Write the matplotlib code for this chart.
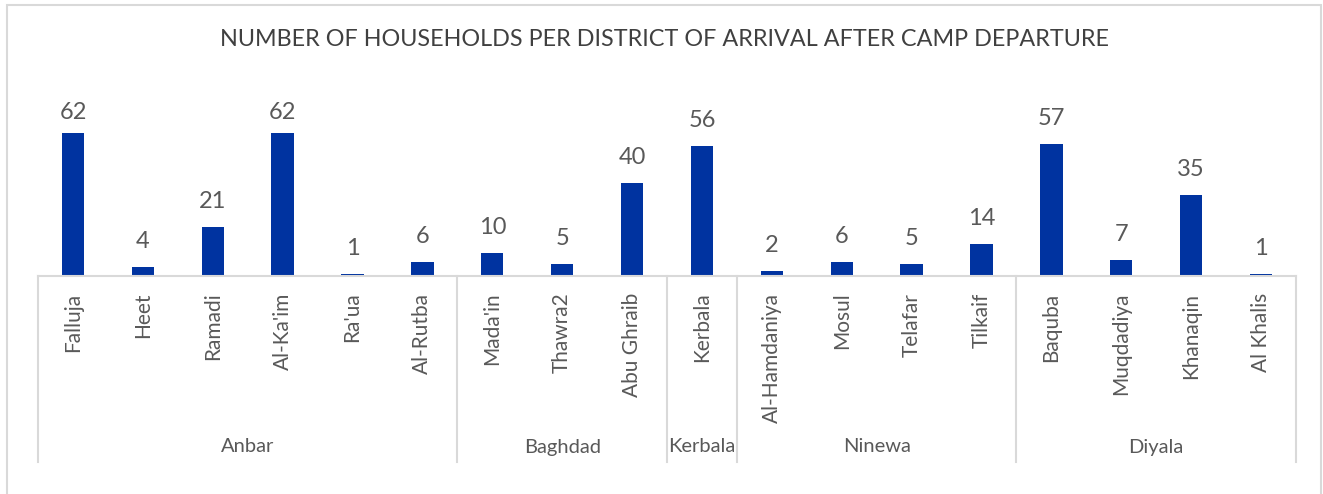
import matplotlib.pyplot as plt
from matplotlib.patches import Rectangle
from matplotlib.lines import Line2D

districts = ["Falluja", "Heet", "Ramadi", "Al-Ka'im", "Ra'ua", "Al-Rutba",
             "Mada'in", "Thawra2", "Abu Ghraib",
             "Kerbala",
             "Al-Hamdaniya", "Mosul", "Telafar", "Tilkaif",
             "Baquba", "Muqdadiya", "Khanaqin", "Al Khalis"]
households = [62, 4, 21, 62, 1, 6,
              10, 5, 40,
              56,
              2, 6, 5, 14,
              57, 7, 35, 1]
governorates = ["Anbar", "Baghdad", "Kerbala", "Ninewa", "Diyala"]
group_sizes = [6, 3, 1, 4, 4]

bar_color = "#0033A0"
text_color = "#595959"
line_color = "#D9D9D9"
font = "Lato"

W, H = 1323, 494
fig = plt.figure(figsize=(W / 100, H / 100), dpi=100)

# plot area in pixels
x0, x1 = 38, 1296
base_y, top_y = 276, 114
ax = fig.add_axes([x0 / W, (H - base_y) / H, (x1 - x0) / W, (base_y - top_y) / H])

x = range(len(districts))
bars = ax.bar(x, households, width=0.32, color=bar_color)
ax.set_xlim(-0.5, len(districts) - 0.5)
ax.set_ylim(0, 70)

# labels sit ~19px above the bar, but are kept inside the chart like Excel does
px_per_unit = (base_y - top_y) / 70
label_cap = 157
for b, v in zip(bars, households):
    gap = min(19, label_cap - v * px_per_unit)
    ax.annotate(str(v), (b.get_x() + b.get_width() / 2, v), xytext=(0, gap * 0.72),
                textcoords="offset points", ha="center", va="baseline",
                fontsize=17, color=text_color, family=font)

for s in ["top", "right", "left"]:
    ax.spines[s].set_visible(False)
ax.spines["bottom"].set_color(line_color)
ax.spines["bottom"].set_linewidth(1.5)
ax.set_yticks([])
ax.set_xticks(list(x))
ax.set_xticklabels(districts, rotation=90, fontsize=15, color=text_color,
                   family=font, va="top", ha="center")
ax.tick_params(axis="x", length=0, pad=12)

# group dividers and labels below axis
ph = base_y - top_y
div_bottom = -(462 - base_y) / ph
label_y = -(447 - base_y) / ph
trans = ax.get_xaxis_transform()
start = 0
bounds = [-0.5]
for name, n in zip(governorates, group_sizes):
    center = start + (n - 1) / 2
    ax.text(center, label_y, name, transform=trans, ha="center", va="center",
            fontsize=14.5, color=text_color, family=font)
    start += n
    bounds.append(start - 0.5)
for bx in bounds:
    ax.add_line(Line2D([bx, bx], [0, div_bottom], transform=trans,
                       color=line_color, lw=1.5, clip_on=False))

# chart border
fig.patches.append(Rectangle((7 / W, -0.1), (1321 - 7) / W, (H - 5) / H + 0.1,
                             transform=fig.transFigure, fill=False,
                             edgecolor=line_color, lw=1.5))

fig.text(665 / W, 1 - 40 / H, "NUMBER OF HOUSEHOLDS PER DISTRICT OF ARRIVAL AFTER CAMP DEPARTURE",
         ha="center", va="center", fontsize=16.8, color="#404040", family=font)

fig.savefig("out.png", dpi=100)
